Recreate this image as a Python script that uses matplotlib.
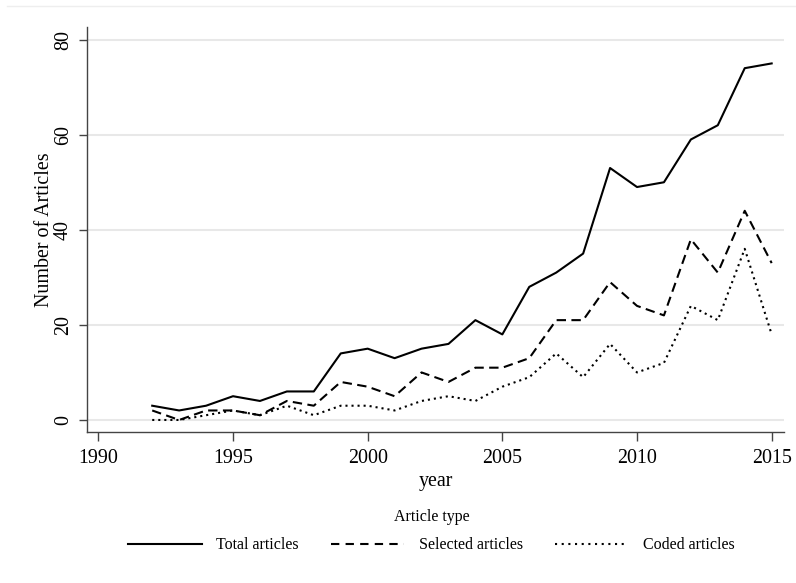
import numpy as np
import matplotlib
matplotlib.use("Agg")
import matplotlib.pyplot as plt
from matplotlib.lines import Line2D

# counts per year
years = list(range(1992, 2016))
total = [3, 2, 3, 5, 4, 6, 6, 14, 15, 13, 15, 16, 21, 18, 28, 31, 35, 53, 49, 50, 59, 62, 74, 75]
selected = [2, 0, 2, 2, 1, 4, 3, 8, 7, 5, 10, 8, 11, 11, 13, 21, 21, 29, 24, 22, 38, 31, 44, 33]
coded = [0, 0, 1, 2, 1, 3, 1, 3, 3, 2, 4, 5, 4, 7, 9, 14, 9, 16, 10, 12, 24, 21, 36, 18]
labels = ["Total articles", "Selected articles", "Coded articles"]
xticks = [1990, 1995, 2000, 2005, 2010, 2015]
yticks = [0, 20, 40, 60, 80]

plt.rcParams['font.family'] = ['Liberation Serif', 'DejaVu Serif']

fig = plt.figure(figsize=(7.96, 5.83), dpi=100)
ax = fig.add_axes([0.109, 0.259, 0.876, 0.695])

lw = 1.5
dash = (0, (4.5, 2.6))
dots = (0, (1, 1.9))
ax.plot(years, total, color='black', lw=lw, linestyle='-', label=labels[0])
ax.plot(years, selected, color='black', lw=lw, linestyle=dash, label=labels[1])
ax.plot(years, coded, color='black', lw=lw, linestyle=dots, label=labels[2])

ax.set_xlim(1989.57, 2015.46)
ax.set_ylim(-2.53, 82.7)
ax.set_xticks(xticks)
ax.set_yticks(yticks)
ax.yaxis.grid(True, color='#e8e8e8', lw=1.5)
ax.set_axisbelow(True)
for s in ['top', 'right']:
    ax.spines[s].set_visible(False)
for s in ['left', 'bottom']:
    ax.spines[s].set_color('#444444')
    ax.spines[s].set_linewidth(1.0)
ax.tick_params(axis='x', length=6.3, width=1.0, color='#444444', labelsize=14.4, pad=6)
ax.tick_params(axis='y', length=6, width=1.0, color='#444444', labelsize=14.4, pad=4)
for t in ax.get_yticklabels():
    t.set_rotation(90)
    t.set_va('center')
ax.set_xlabel("year", fontsize=14.4, labelpad=3)
ax.set_ylabel("Number of Articles", fontsize=14.4, labelpad=0)

handles = [Line2D([], [], color='black', lw=lw, linestyle='-'),
           Line2D([], [], color='black', lw=lw, linestyle=(0, (4, 3))),
           Line2D([], [], color='black', lw=lw, linestyle=(0, (1, 2.2)))]
leg = fig.legend(handles, labels, loc='center', bbox_to_anchor=(0.542, 0.089), ncol=3,
                 frameon=False, fontsize=11.5, title="Article type", title_fontsize=11.5,
                 handlelength=4.6, columnspacing=2.0, handletextpad=0.9, labelspacing=0.75)

# faint outer frame edge at top
fig.add_artist(Line2D([0.009, 1.0], [0.99, 0.99], color='#eeeeee', lw=1.0,
                      transform=fig.transFigure))

fig.savefig("out.png", dpi=100)
